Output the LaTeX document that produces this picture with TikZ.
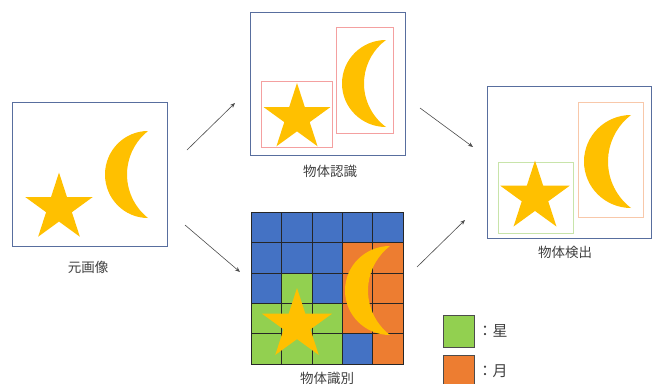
\documentclass[tikz,border=0pt]{standalone}
\usepackage{fontspec}
\newfontfamily\jpfont{Noto Sans CJK JP}
\usepackage{tikz}
\usetikzlibrary{positioning, arrows.meta, shapes.geometric}

\definecolor{boxblue}{RGB}{88,110,158}
\definecolor{gold}{RGB}{255,192,0}
\definecolor{cb}{RGB}{68,114,196}
\definecolor{co}{RGB}{237,125,49}
\definecolor{cg}{RGB}{146,208,80}
\definecolor{bbred}{RGB}{244,160,160}
\definecolor{bbgreen}{RGB}{200,228,170}
\definecolor{bborange}{RGB}{248,200,170}
\definecolor{txtgray}{RGB}{64,64,64}

% crescent: tip x, mid y, half height, outer depth, inner depth
\newcommand{\moonshape}[5]{%
  \pgfmathsetmacro{\moonr}{(#3*#3+#5*#5)/(2*#5)}%
  \pgfmathsetmacro{\moona}{atan2(#3,#5-\moonr)}%
  \fill[gold] (#1,#2-#3) arc[start angle=270, end angle=90, x radius=#4, y radius=#3]
    arc[start angle=\moona, end angle=360-\moona, radius=\moonr] -- cycle;
}

\begin{document}
\begin{tikzpicture}[
        x=1pt, y=-1pt,
        imgbox/.style={draw=boxblue, line width=0.8pt, fill=white, inner sep=0pt},
        lbl/.style={font=\jpfont\fontsize{13.5}{15}\selectfont, text=txtgray, inner sep=0pt},
        starnode/.style={star, star points=5, star point ratio=2.618, fill=gold, inner sep=0pt, minimum size=#1},
        cell/.style={draw=black!85, line width=0.6pt, minimum size=30.4pt, inner sep=0pt},
        bbox/.style={draw=#1, line width=0.7pt},
        arr/.style={-{Stealth[length=5pt, width=4pt]}, draw=black!70, line width=0.6pt},
        legbox/.style={draw=black!70, line width=0.8pt, fill=#1, minimum width=31pt, minimum height=32pt, inner sep=0pt},
    ]
    \useasboundingbox (0,0) rectangle (656,383);

    % ---- ORIGINAL ----
    \node[imgbox, minimum width=155pt, minimum height=144pt] (orig) at (89.5,174) {};
    \node[lbl, below=15pt of orig, xshift=-1.5pt] (orig-lbl) {元画像};
    \node[starnode=71pt] (star-o) at (59,208) {};
    \moonshape{148}{174.5}{43.5}{43}{21}

    % ---- RECOGNITION ----
    \node[imgbox, minimum width=155pt, minimum height=143pt] (recog) at (327.5,83.5) {};
    \node[lbl, below=10pt of recog, xshift=2.5pt] (recog-lbl) {物体認識};
    \draw[bbox=bbred] (261,81) rectangle (332,147);
    \draw[bbox=bbred] (336,27) rectangle (393,133);
    \node[starnode=70pt] (star-r) at (297,118) {};
    \moonshape{386}{83.5}{43.5}{44}{22}

    % ---- DETECTION ----
    \node[imgbox, minimum width=164pt, minimum height=152pt] (detect) at (569,162) {};
    \node[lbl, below=8pt of detect, xshift=-4pt] (detect-lbl) {物体検出};
    \draw[bbox=bbgreen] (498,162) rectangle (573,233);
    \draw[bbox=bborange] (578,102) rectangle (643,217);
    \node[starnode=73pt] (star-d) at (535,197) {};
    \moonshape{631}{161.5}{46.5}{47}{23}

    % ---- SEGMENTATION GRID ----
    \foreach \clr [count=\i from 0] in {cb,cb,cb,cb,cb, cb,cb,cb,co,co, cb,cg,cb,co,co, cg,cg,cg,co,co, cg,cg,cg,cb,co} {
        \pgfmathtruncatemacro{\cx}{mod(\i,5)}
        \pgfmathtruncatemacro{\cy}{div(\i,5)}
        \node[cell, fill=\clr] (c\i) at ({266.2+30.4*\cx},{227.2+30.4*\cy}) {};
    }
    \node[starnode=74pt] (star-s) at (297,325) {};
    \moonshape{390}{290.5}{44.5}{45}{22}
    \node[lbl, below=8pt of c22] (seg-lbl) {物体識別};

    % ---- LEGEND ----
    \node[legbox=cg] (leg-g) at (458.5,331) {};
    \node[legbox=co] (leg-o) at (458.5,371) {};
    \node[lbl, font=\jpfont\fontsize{15}{17}\selectfont, right=3pt of leg-g] (leg-g-lbl) {：星};
    \node[lbl, font=\jpfont\fontsize{15}{17}\selectfont, right=3pt of leg-o] (leg-o-lbl) {：月};

    % ---- ARROWS ----
    \coordinate (a1s) at (187,150);  \coordinate (a1e) at (235,103);
    \coordinate (a2s) at (185,225);  \coordinate (a2e) at (240,272);
    \coordinate (a3s) at (420,108);  \coordinate (a3e) at (473,147);
    \coordinate (a4s) at (417,267);  \coordinate (a4e) at (465,220);
    \draw[arr] (a1s) -- (a1e);
    \draw[arr] (a2s) -- (a2e);
    \draw[arr] (a3s) -- (a3e);
    \draw[arr] (a4s) -- (a4e);
\end{tikzpicture}
\end{document}
